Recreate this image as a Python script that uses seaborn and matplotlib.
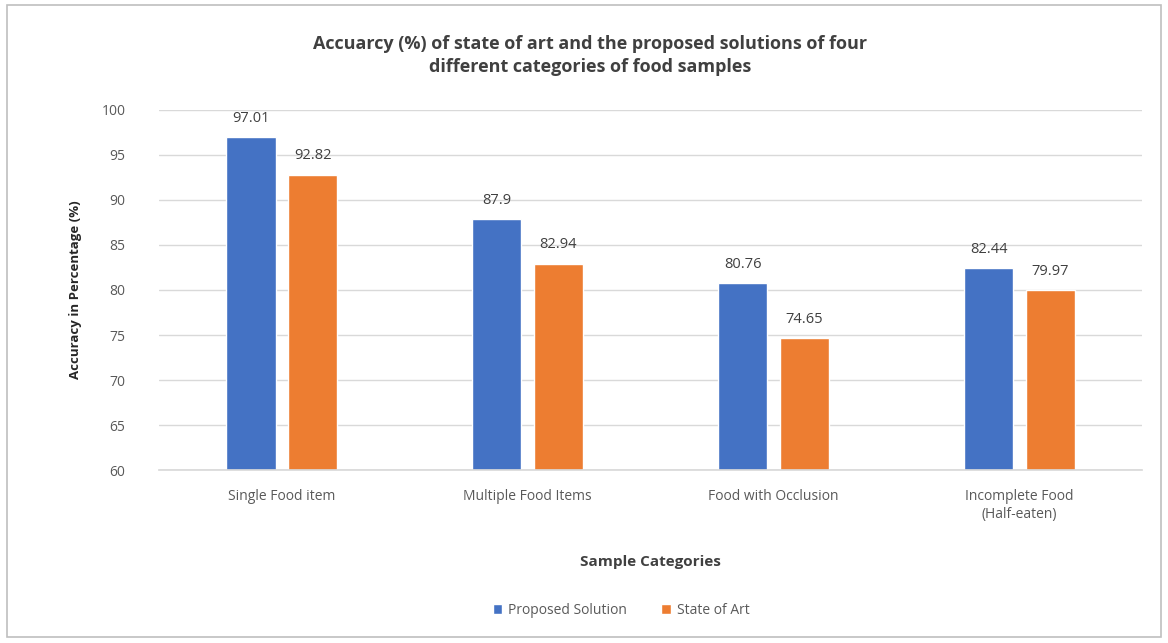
import matplotlib
matplotlib.use("Agg")
import matplotlib.pyplot as plt
import seaborn as sns
import pandas as pd
from matplotlib.patches import Rectangle

categories = ["Single Food item", "Multiple Food Items", "Food with Occlusion", "Incomplete Food\n(Half-eaten)"]
proposed = [97.01, 87.9, 80.76, 82.44]
state_of_art = [92.82, 82.94, 74.65, 79.97]
series_names = ["Proposed Solution", "State of Art"]
colors = ["#4472C4", "#ED7D31"]

df = pd.DataFrame({
    "Category": categories * 2,
    "Value": proposed + state_of_art,
    "Series": [series_names[0]] * len(categories) + [series_names[1]] * len(categories),
})

sns.set_theme(style="white")
plt.rcParams['font.family'] = ['Open Sans', 'DejaVu Sans']

fig = plt.figure(figsize=(11.68, 6.43), dpi=100)
ax = fig.add_axes([0.136, 0.269, 0.842, 0.56])

sns.barplot(data=df, x="Category", y="Value", hue="Series", palette=colors,
            width=0.5, gap=0.2, ax=ax, legend=True, saturation=1)

ax.set_ylim(60, 100)
ax.set_yticks(range(60, 101, 5))
ax.yaxis.grid(True, color="#D9D9D9", linewidth=1)
ax.set_axisbelow(True)
for s in ["top", "right", "left"]:
    ax.spines[s].set_visible(False)
ax.spines["bottom"].set_color("#D9D9D9")
ax.tick_params(axis="both", length=0, labelsize=10, labelcolor="#595959")
ax.tick_params(axis="y", pad=24)
ax.tick_params(axis="x", pad=14)

for cont in ax.containers:
    ax.bar_label(cont, fmt="%g", padding=8, fontsize=10.5, color="#404040")

ax.set_xlabel("Sample Categories", fontsize=11, fontweight="bold", color="#404040", labelpad=24)
ax.set_ylabel("Accuracy in Percentage (%)", fontsize=9.5, fontweight="bold", color="#262626", labelpad=14)

fig.suptitle("Accuarcy (%) of state of art and the proposed solutions of four\ndifferent categories of food samples",
             x=0.505, y=0.945, fontsize=13, fontweight="bold", color="#404040", linespacing=1.3)

leg = ax.legend(loc="upper center", bbox_to_anchor=(0.47, -0.335), ncol=2, frameon=False,
                fontsize=10, handlelength=0.7, handleheight=0.7, columnspacing=2.5, handletextpad=0.4)
for t in leg.get_texts():
    t.set_color("#595959")

fig.patches.append(Rectangle((0.006, 0.01), 0.988, 0.982, transform=fig.transFigure,
                             fill=False, edgecolor="#BFBFBF", linewidth=1.2))

fig.savefig("out.png", dpi=100)
